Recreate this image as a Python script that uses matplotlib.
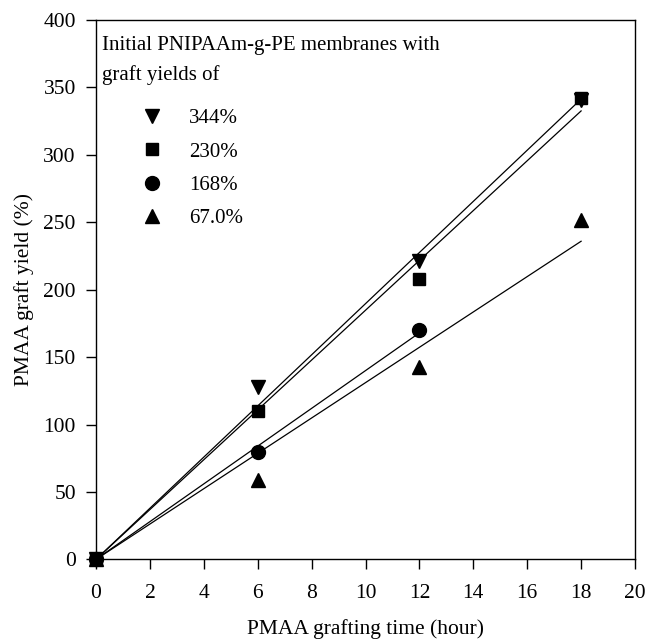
import numpy as np
import matplotlib
matplotlib.use("Agg")
import matplotlib.pyplot as plt

plt.rcParams['font.family'] = ['Liberation Serif', 'DejaVu Serif']
plt.rcParams['mathtext.fontset'] = 'stix'

# Data
labels = ["344%", "230%", "168%", "67.0%"]
markers = ["v", "s", "o", "^"]
x_344 = [0, 6, 12, 18]
y_344 = [0, 128, 221, 341]
x_230 = [0, 6, 12, 18]
y_230 = [0, 110, 208, 342]
x_168 = [0, 6, 12]
y_168 = [0, 80, 170]
x_67 = [0, 6, 12, 18]
y_67 = [0, 59, 143, 252]

series = [(x_344, y_344), (x_230, y_230), (x_168, y_168), (x_67, y_67)]
msizes = [9.5, 8.6, 10, 9.5]

fig = plt.figure(figsize=(6.48, 6.41), dpi=100)
ax = fig.add_axes([96/648, 1-559.4/641, (635-96)/648, (559.4-20)/641])

handles = []
for (xs, ys), m, lab, ms in zip(series, markers, labels, msizes):
    xs = np.array(xs, float); ys = np.array(ys, float)
    slope = np.sum(xs*ys)/np.sum(xs*xs)  # regression through origin
    xl = np.array([0, xs.max()])
    ax.plot(xl, slope*xl, color='black', lw=0.9, zorder=2)
    h, = ax.plot(xs, ys, linestyle='none', marker=m, color='black', ms=ms, zorder=3, label=lab, clip_on=False)
    handles.append(h)

ax.set_xlim(0, 20)
ax.set_ylim(0, 400)
ax.set_xticks(range(0, 21, 2))
ax.set_yticks(range(0, 401, 50))
ax.tick_params(direction='out', length=7.5, width=1, labelsize=15.5, top=False, right=False)
ax.tick_params(axis='x', pad=10)
ax.tick_params(axis='y', pad=7)
for s in ax.spines.values():
    s.set_linewidth(1.0)

ax.set_xlabel("PMAA grafting time (hour)", fontsize=15.5, labelpad=12)
ax.set_ylabel("PMAA graft yield (%)", fontsize=15.5, labelpad=7)

ax.text(0.012, 0.97, "Initial PNIPAAm-g-PE membranes with\ngraft yields of", transform=ax.transAxes,
        fontsize=15, va='top', ha='left', linespacing=1.65)
leg = ax.legend(handles=handles, loc='upper left', bbox_to_anchor=(0.065, 0.851), frameon=False,
                fontsize=15, handlelength=1.2, handletextpad=1.2, labelspacing=0.66, numpoints=1,
                borderaxespad=0)

fig.savefig("out.png", dpi=100)
